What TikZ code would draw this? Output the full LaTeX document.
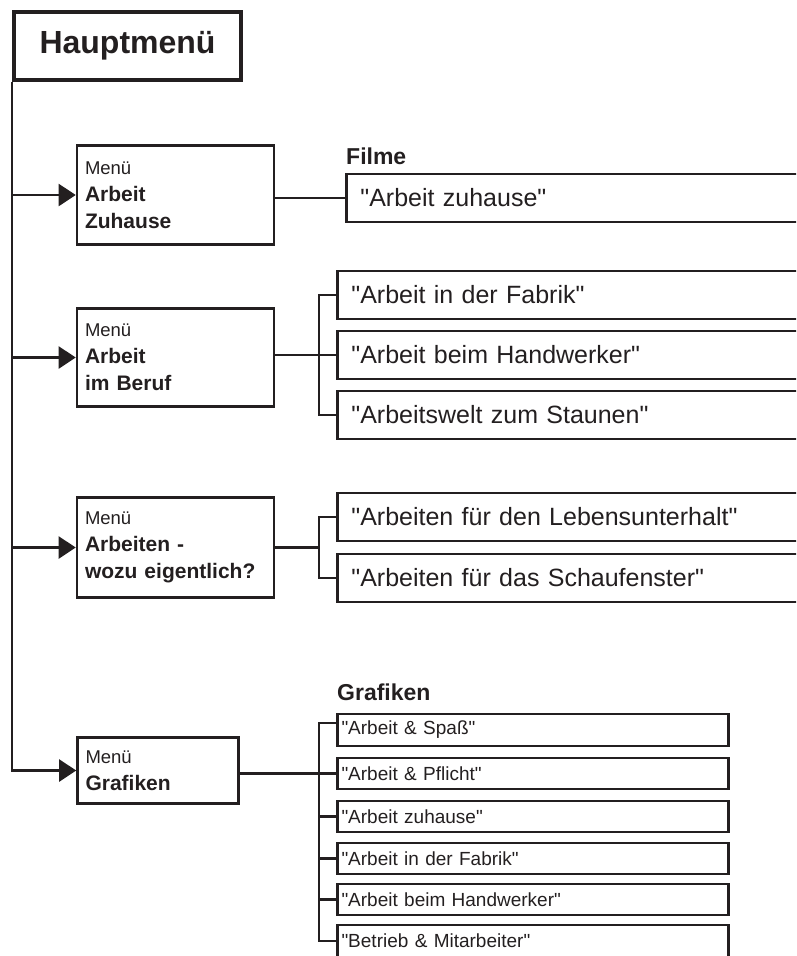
\documentclass[tikz,border=0pt]{standalone}
\usepackage{fontspec}
\setmainfont{Liberation Sans}[Ligatures = TeXOff]
\usetikzlibrary{arrows.meta}
\definecolor{tinte}{RGB}{35,31,32}

\tikzset{
  hauptbox/.style = {draw = tinte, line width = 4pt, minimum width = 227pt, minimum height = 68pt, text = tinte, font = \fontsize{32}{36}\selectfont\bfseries},
  menubox/.style = {draw = tinte, line width = 2.6pt, align = left, inner xsep = 8pt, text = tinte, font = \fontsize{21}{27}\selectfont\bfseries},
  filmbox/.style = {draw = tinte, line width = 2.4pt, anchor = west, minimum height = 47.6pt, text width = 570pt, inner xsep = 14pt, align = left, text = tinte, font = \fontsize{25}{30}\selectfont},
  grafikbox/.style = {draw = tinte, line width = 2.4pt, minimum height = 31.5pt, text width = 383pt, inner xsep = 4pt, inner ysep = 0pt, align = left, text = tinte, font = \fontsize{19}{22}\selectfont},
  titel/.style = {anchor = base west, inner sep = 0pt, text = tinte, font = \fontsize{23}{27}\selectfont\bfseries},
  verbinder/.style = {draw = tinte, line width = 2.2pt},
  pfeil/.style = {verbinder, -{Triangle[length = 17pt, width = 22pt]}}
}

\begin{document}
\begin{tikzpicture}[x = 1pt, y = -1pt]
  \useasboundingbox (0, 0) rectangle (796, 956);
  \clip (0, 0) rectangle (796, 956);

  % Hauptmenue und Untermenues
  \node [hauptbox] (haupt) at (127.5, 46) {Hauptmenü};
  \node [menubox, text width = 181pt, minimum height = 99.4pt] (arbzu) at (175.5, 195) {{\fontsize{18.5}{27}\selectfont\mdseries Menü}\\Arbeit\\Zuhause};
  \node [menubox, text width = 181pt, minimum height = 98.5pt] (arbbe) at (175.5, 357.5) {{\fontsize{18.5}{27}\selectfont\mdseries Menü}\\Arbeit\\im Beruf};
  \node [menubox, text width = 181pt, minimum height = 100pt] (arbwo) at (175.5, 547.5) {{\fontsize{18.5}{27}\selectfont\mdseries Menü}\\Arbeiten -\\wozu eigentlich?};
  \node [menubox, text width = 145pt, minimum height = 66pt] (grafmenu) at (158, 770.5) {{\fontsize{18.5}{27}\selectfont\mdseries Menü}\\Grafiken};

  % Stamm mit Pfeilen
  \draw [pfeil] (haupt.south west) |- (grafmenu.west);
  \draw [pfeil] (haupt.south west |- arbzu.west) -- (arbzu.west);
  \draw [pfeil] (haupt.south west |- arbbe.west) -- (arbbe.west);
  \draw [pfeil] (haupt.south west |- arbwo.west) -- (arbwo.west);

  % Filme
  \node [titel] (filmetitel) at (346, 164) {Filme};
  \node [filmbox] (zuhause) at (345.2, 198) {"Arbeit zuhause"};
  \draw [verbinder] (arbzu.east |- zuhause.west) -- (zuhause.west);

  \coordinate (kamm) at (319, 0);
  \node [filmbox] (fabrik) at (336.2, 295) {"Arbeit in der Fabrik"};
  \node [filmbox] (handwerk) at (336.2, 355) {"Arbeit beim Handwerker"};
  \node [filmbox] (staunen) at (336.2, 415) {"Arbeitswelt zum Staunen"};
  \draw [verbinder] (fabrik.west) -| (kamm |- staunen.west) -- (staunen.west);
  \draw [verbinder] (arbbe.east |- handwerk.west) -- (handwerk.west);

  \node [filmbox] (leben) at (336.2, 517) {"Arbeiten für den Lebensunterhalt"};
  \node [filmbox] (schau) at (336.2, 578) {"Arbeiten für das Schaufenster"};
  \draw [verbinder] (leben.west) -| (kamm |- schau.west) -- (schau.west);
  \draw [verbinder] (arbwo.east) -- (arbwo.east -| kamm);

  % Grafiken
  \node [titel] (grafiktitel) at (337, 700) {Grafiken};
  \node [grafikbox] (spass) at (533, 730) {"Arbeit \& Spaß"};
  \node [grafikbox] (pflicht) at (533, 773.5) {"Arbeit \& Pflicht"};
  \node [grafikbox] (gzuhause) at (533, 816.5) {"Arbeit zuhause"};
  \node [grafikbox] (gfabrik) at (533, 858.5) {"Arbeit in der Fabrik"};
  \node [grafikbox] (ghandwerk) at (533, 899.5) {"Arbeit beim Handwerker"};
  \node [grafikbox] (betrieb) at (533, 941) {"Betrieb \& Mitarbeiter"};
  \draw [verbinder] ([yshift = 7pt] spass.west) -| (kamm |- betrieb.west) -- (betrieb.west);
  \draw [verbinder] (grafmenu.east |- pflicht.west) -- (pflicht.west);
  \draw [verbinder] (kamm |- gzuhause.west) -- (gzuhause.west);
  \draw [verbinder] (kamm |- gfabrik.west) -- (gfabrik.west);
  \draw [verbinder] (kamm |- ghandwerk.west) -- (ghandwerk.west);
\end{tikzpicture}
\end{document}
